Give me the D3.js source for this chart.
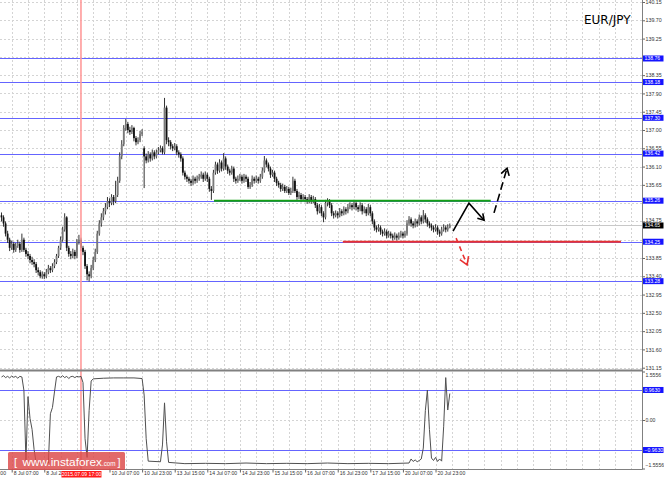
<!DOCTYPE html>
<html><head><meta charset="utf-8">
<script src="https://cdn.jsdelivr.net/npm/d3@7"></script>
<style>
html,body{margin:0;padding:0;background:#fff;}
svg{display:block;}
</style></head><body>
<svg id="c" width="664" height="478"></svg>
<script>
// ---------- DATA (EUR/JPY, H1 bars 8 Jul 02:00 .. 21 Jul 06:00) ----------
const open = [
134.90,134.85,134.70,134.45,134.30,134.10,134.20,134.05,134.15,134.20,
134.05,134.30,134.05,133.95,133.90,133.80,133.75,133.70,133.55,133.50,
133.40,133.45,133.40,133.50,133.60,133.55,133.65,133.75,133.90,134.10,
134.30,134.55,134.85,134.10,133.95,133.90,134.00,133.90,134.25,134.30,
134.10,134.00,133.65,133.45,133.40,133.60,133.80,134.00,134.45,134.70,
134.85,135.00,135.10,135.25,135.20,135.35,135.25,135.40,135.75,136.35,
136.65,137.05,137.15,137.00,136.95,137.05,136.80,136.70,136.75,136.90,
136.55,136.35,136.25,136.40,136.30,136.45,136.35,136.45,136.50,136.55,
136.45,137.55,136.75,136.70,136.60,136.55,136.60,136.45,136.40,136.30,
135.95,135.85,135.80,135.75,135.70,135.80,135.75,135.80,135.85,135.90,
135.80,135.90,135.80,135.55,135.50,135.95,136.15,136.00,136.20,136.05,
136.30,136.10,136.00,135.95,136.05,135.80,135.75,135.80,135.85,135.75,
135.85,135.80,135.60,135.65,135.80,135.75,135.80,135.75,135.85,136.00,
136.25,136.15,136.05,135.90,135.95,135.80,135.70,135.65,135.55,135.60,
135.50,135.55,135.45,135.50,135.75,135.50,135.35,135.40,135.30,135.35,
135.30,135.25,135.35,135.25,135.30,135.15,135.00,135.10,134.95,134.85,
135.20,135.25,135.15,134.95,134.90,134.95,134.90,135.00,134.95,135.05,
135.00,135.10,135.15,135.10,135.20,135.10,135.05,135.15,135.00,135.05,
134.95,135.10,134.95,134.75,134.60,134.55,134.60,134.50,134.45,134.50,
134.40,134.45,134.40,134.35,134.40,134.35,134.40,134.45,134.40,134.45,
134.70,134.80,134.70,134.65,134.75,134.70,134.85,134.75,134.90,134.80,
134.70,134.65,134.60,134.55,134.60,134.50,134.45,134.55,134.60,134.55,
134.60];
const close = [
134.85,134.70,134.45,134.30,134.10,134.20,134.05,134.15,134.20,134.05,
134.30,134.05,133.95,133.90,133.80,133.75,133.70,133.55,133.50,133.40,
133.45,133.40,133.50,133.60,133.55,133.65,133.75,133.90,134.10,134.30,
134.55,134.85,134.10,133.95,133.90,134.00,133.90,134.25,134.30,134.10,
134.00,133.65,133.45,133.40,133.60,133.80,134.00,134.45,134.70,134.85,
135.00,135.10,135.25,135.20,135.35,135.25,135.40,135.75,136.35,136.65,
137.05,137.15,137.00,136.95,137.05,136.80,136.70,136.75,136.90,136.95,
136.35,136.25,136.40,136.30,136.45,136.35,136.45,136.50,136.55,136.45,
137.55,136.75,136.70,136.60,136.55,136.60,136.45,136.40,136.30,135.95,
135.85,135.80,135.75,135.70,135.80,135.75,135.80,135.85,135.90,135.80,
135.90,135.80,135.55,135.50,135.95,136.15,136.00,136.20,136.05,136.30,
136.10,136.00,135.95,136.05,135.80,135.75,135.80,135.85,135.75,135.85,
135.80,135.60,135.65,135.80,135.75,135.80,135.75,135.85,136.00,136.25,
136.15,136.05,135.90,135.95,135.80,135.70,135.65,135.55,135.60,135.50,
135.55,135.45,135.50,135.75,135.50,135.35,135.40,135.30,135.35,135.30,
135.25,135.35,135.25,135.30,135.15,135.00,135.10,134.95,134.85,135.20,
135.25,135.15,134.95,134.90,134.95,134.90,135.00,134.95,135.05,135.00,
135.10,135.15,135.10,135.20,135.10,135.05,135.15,135.00,135.05,134.95,
135.10,134.95,134.75,134.60,134.55,134.60,134.50,134.45,134.50,134.40,
134.45,134.40,134.35,134.40,134.35,134.40,134.45,134.40,134.45,134.70,
134.80,134.70,134.65,134.75,134.70,134.85,134.75,134.90,134.80,134.70,
134.65,134.60,134.55,134.60,134.50,134.45,134.55,134.60,134.55,134.60,
134.65];
const high = [
134.97,134.90,134.75,134.52,134.35,134.28,134.25,134.22,134.30,134.25,
134.45,134.35,134.10,134.02,133.95,133.88,133.82,133.75,133.62,133.55,
133.52,133.50,133.58,133.68,133.65,133.72,133.82,133.95,134.15,134.38,
134.62,134.95,134.88,134.15,134.02,134.08,134.05,134.32,134.42,134.35,
134.15,134.05,133.70,133.52,133.68,133.88,134.08,134.52,134.78,134.95,
135.08,135.20,135.35,135.32,135.42,135.40,135.75,135.85,136.45,136.75,
137.12,137.27,137.20,137.08,137.12,137.08,136.85,136.82,136.98,137.02,
136.60,136.42,136.48,136.45,136.52,136.50,136.52,136.58,136.62,136.60,
137.79,137.60,136.82,136.75,136.65,136.68,136.65,136.50,136.45,136.35,
136.00,135.90,135.85,135.80,135.88,135.85,135.88,135.92,135.98,135.95,
135.98,135.95,135.85,135.62,136.02,136.22,136.20,136.28,136.25,136.43,
136.35,136.15,136.05,136.12,136.10,135.85,135.88,135.92,135.90,135.92,
135.90,135.85,135.72,135.88,135.85,135.88,135.85,135.92,136.08,136.36,
136.30,136.20,136.10,136.02,136.00,135.85,135.75,135.70,135.68,135.65,
135.62,135.60,135.58,135.85,135.80,135.55,135.48,135.45,135.42,135.40,
135.35,135.42,135.40,135.38,135.35,135.20,135.18,135.15,135.00,135.28,
135.32,135.30,135.20,135.00,135.02,135.00,135.08,135.05,135.12,135.10,
135.18,135.22,135.20,135.28,135.25,135.15,135.22,135.20,135.12,135.10,
135.18,135.15,135.00,134.80,134.65,134.68,134.65,134.55,134.58,134.55,
134.52,134.50,134.45,134.48,134.45,134.48,134.52,134.50,134.52,134.78,
134.88,134.85,134.75,134.82,134.80,134.92,134.90,135.03,134.95,134.85,
134.75,134.70,134.65,134.68,134.65,134.55,134.62,134.68,134.65,134.68,
134.70];
const low = [
134.75,134.62,134.38,134.22,134.02,134.05,133.98,134.00,134.10,133.98,
134.00,134.00,133.88,133.82,133.72,133.68,133.62,133.48,133.42,133.35,
133.34,133.33,133.35,133.45,133.48,133.50,133.60,133.70,133.85,134.05,
134.25,134.50,134.02,133.88,133.82,133.85,133.82,133.85,134.18,134.02,
133.92,133.58,133.30,133.27,133.35,133.55,133.75,133.95,134.40,134.62,
134.78,134.92,135.05,135.10,135.15,135.15,135.20,135.35,135.70,136.28,
136.60,136.98,136.92,136.88,136.90,136.72,136.62,136.65,136.70,136.85,
135.57,136.18,136.20,136.22,136.25,136.28,136.30,136.40,136.45,136.40,
136.40,136.65,136.60,136.52,136.48,136.50,136.38,136.32,136.22,135.88,
135.78,135.72,135.68,135.62,135.65,135.68,135.70,135.75,135.80,135.72,
135.75,135.72,135.48,135.28,135.45,135.90,135.92,135.95,135.98,136.00,
136.02,135.92,135.88,135.90,135.72,135.68,135.70,135.75,135.68,135.70,
135.72,135.55,135.55,135.60,135.68,135.70,135.68,135.70,135.80,135.95,
136.08,135.98,135.82,135.85,135.72,135.62,135.58,135.48,135.50,135.45,
135.45,135.40,135.40,135.45,135.45,135.28,135.30,135.22,135.25,135.22,
135.18,135.20,135.18,135.20,135.08,134.92,134.95,134.88,134.73,134.80,
135.12,135.08,134.88,134.82,134.85,134.82,134.85,134.88,134.90,134.92,
134.95,135.05,135.02,135.05,135.02,134.98,135.00,134.92,134.95,134.88,
134.90,134.88,134.68,134.52,134.48,134.50,134.42,134.38,134.40,134.33,
134.35,134.33,134.28,134.30,134.28,134.30,134.35,134.33,134.35,134.40,
134.65,134.62,134.58,134.60,134.62,134.65,134.68,134.70,134.72,134.62,
134.58,134.52,134.48,134.50,134.42,134.37,134.40,134.50,134.48,134.50,
134.58];

// oscillator (lower panel): bar index / value
const oscIdx = [0,1,2,3,4,5,6,7,8,9,10,11,12,13,14,15,16,17,23,24,25,26,27,28,29,30,31,32,33,34,35,36,37,38,39,
  40,41,42,43,44,45,50,55,60,65,69,70,71,72,78,79,80,81,82,90,100,110,120,130,140,150,160,170,180,190,200,
  201,202,203,204,205,206,207,208,209,210,211,212,213,214,215,216,217,218,219,220];
const oscVal = [1.38,1.42,1.36,1.40,1.35,1.41,1.37,1.40,1.34,1.40,1.38,0.95,-1.30,0.75,0.05,-0.30,-0.95,-1.38,-1.38,0.20,0.40,0.90,1.38,1.40,1.37,1.42,1.36,1.40,1.33,1.39,1.40,1.36,1.40,1.38,1.40,
  1.20,-0.60,-1.20,0.30,1.25,1.32,1.34,1.35,1.35,1.35,1.33,0.80,-0.60,-1.32,-1.34,-0.80,0.55,-0.70,-1.36,-1.40,-1.39,-1.40,-1.38,-1.40,-1.39,-1.40,-1.38,-1.40,-1.39,-1.40,-1.38,
  -1.25,-1.33,-1.28,-1.34,-1.30,-1.25,-0.90,0.30,0.96,-0.30,-1.22,-1.30,-1.20,-1.33,-1.25,-1.32,-0.20,1.36,0.32,0.85];

const priceTicks = [140.15,139.70,139.25,138.35,137.90,137.45,137.00,136.55,136.10,135.65,134.75,133.85,133.40,132.95,132.50,132.05,131.60,131.15];
const gridPrices = [140.15,139.70,139.25,138.80,138.35,137.90,137.45,137.00,136.55,136.10,135.65,135.20,134.75,134.30,133.85,133.40,132.95,132.50,132.05,131.60,131.15];
const levels = [138.76,138.18,137.30,136.42,135.26,134.25,133.28];
const currentPrice = 134.65;
const oscTicks = [1.5556,0.00,-1.5556];
const oscLevels = [0.9630,-0.9630];
const timeTickIdx = [-11,5,21,53,69,85,101,117,133,149,165,181,197,213];
const timeTickLabels = ["7 Jul 15:00","8 Jul 07:00","8 Jul 23:00","10 Jul 07:00","10 Jul 23:00","13 Jul 15:00","14 Jul 07:00","14 Jul 23:00","15 Jul 15:00","16 Jul 07:00","16 Jul 23:00","17 Jul 15:00","20 Jul 07:00","20 Jul 23:00"];
const markerIdx = 39, markerLabel = "2015.07.09 17:00";
const greenLine = {from:104.3, to:240.1, price:135.26};
const redLine = {from:167.5, to:304, price:134.25};
const arrowUp = [[221.6,134.51],[229.4,135.20],[236.8,134.78]];
const arrowUpDash = [[241.7,134.96],[248.1,136.06]];
const arrowDownDash = [[223.1,134.34],[228.5,133.68]];
const title = "EUR/JPY";

// ---------- LAYOUT ----------
const svg = d3.select("#c");
const AX = 642.5, MAIN_BOT = 370, OSC_BOT = 469.5;
const x = d3.scaleLinear().domain([0,220]).range([1.5, 449.8]);
const y = d3.scaleLinear().domain([131.15,140.15]).range([367.7, 2.0]);
const yo = d3.scaleLinear().domain([-1.5556,1.5556]).range([468.5, 371.5]);
const SMALL = "Liberation Sans, Arial, sans-serif";

const defs = svg.append("defs");
defs.append("clipPath").attr("id","cm").append("rect").attr("x",0).attr("y",0).attr("width",AX).attr("height",MAIN_BOT);
defs.append("clipPath").attr("id","co").append("rect").attr("x",0).attr("y",371.5).attr("width",AX).attr("height",98);

const px = v => Math.round(v) + 0.5;

// grid
const grid = svg.append("g").attr("stroke","#d4d4d4").attr("stroke-dasharray","2,2").attr("shape-rendering","crispEdges");
grid.selectAll("line.h").data(gridPrices).join("line").attr("class","h")
  .attr("x1",0).attr("x2",AX).attr("y1",d=>px(y(d))).attr("y2",d=>px(y(d)));
grid.append("line").attr("x1",0).attr("x2",AX).attr("y1",px(yo(0))).attr("y2",px(yo(0)));
const vIdx = d3.range(5, 320, 8);
grid.selectAll("line.v").data(vIdx.filter(i=>x(i)<AX)).join("line").attr("class","v")
  .attr("x1",d=>px(x(d))).attr("x2",d=>px(x(d))).attr("y1",0).attr("y2",OSC_BOT);

// main panel
const gm = svg.append("g").attr("clip-path","url(#cm)");
gm.append("line").attr("x1",0).attr("x2",AX).attr("y1",px(y(currentPrice))).attr("y2",px(y(currentPrice)))
  .attr("stroke","#c8c8c8").attr("shape-rendering","crispEdges");
gm.selectAll("line.lv").data(levels).join("line").attr("class","lv")
  .attr("x1",0).attr("x2",AX).attr("y1",d=>px(y(d))).attr("y2",d=>px(y(d)))
  .attr("stroke","#6464ff").attr("stroke-width",1).attr("shape-rendering","crispEdges");

// marker line
svg.append("line").attr("x1",x(markerIdx)).attr("x2",x(markerIdx)).attr("y1",0).attr("y2",OSC_BOT)
  .attr("stroke","#ff9a9a").attr("stroke-width",1.6);

// candles
const bars = d3.range(close.length);
gm.selectAll("line.wk").data(bars).join("line").attr("class","wk")
  .attr("x1",i=>x(i)).attr("x2",i=>x(i)).attr("y1",i=>y(high[i])).attr("y2",i=>y(low[i]))
  .attr("stroke","#333").attr("stroke-width",1);
gm.selectAll("rect.bd").data(bars).join("rect").attr("class","bd")
  .attr("x",i=>x(i)-0.9).attr("width",1.8)
  .attr("y",i=>y(Math.max(open[i],close[i])))
  .attr("height",i=>Math.max(1, Math.abs(y(open[i])-y(close[i]))))
  .attr("fill",i=> close[i]>=open[i] ? "#7a7a7a" : "#111");

// support / resistance
gm.append("line").attr("x1",x(greenLine.from)).attr("x2",x(greenLine.to))
  .attr("y1",y(greenLine.price)).attr("y2",y(greenLine.price)).attr("stroke","#14a014").attr("stroke-width",2);
gm.append("line").attr("x1",x(redLine.from)).attr("x2",x(redLine.to))
  .attr("y1",y(redLine.price)).attr("y2",y(redLine.price)).attr("stroke","#e83232").attr("stroke-width",2);

// arrows
function arrow(pts, color, dash, head){
  const p = pts.map(d=>[x(d[0]), y(d[1])]);
  gm.append("path").attr("d", d3.line()(p)).attr("fill","none").attr("stroke",color)
    .attr("stroke-width",1.6).attr("stroke-dasharray",dash);
  const a = p[p.length-1], b = p[p.length-2];
  const ang = Math.atan2(b[1]-a[1], b[0]-a[0]);
  const arms = [ang+0.55, ang-0.55].map(t=>[a[0]+head*Math.cos(t), a[1]+head*Math.sin(t)]);
  gm.append("path").attr("d", d3.line()([arms[0], a, arms[1]])).attr("fill","none")
    .attr("stroke",color).attr("stroke-width",1.6);
}
arrow(arrowUp, "#000", null, 7);
arrow(arrowUpDash, "#000", "8,4", 8);
arrow(arrowDownDash, "#e83232", "5,4", 9);

// oscillator
const go = svg.append("g").attr("clip-path","url(#co)");
go.selectAll("line.ol").data(oscLevels).join("line").attr("class","ol")
  .attr("x1",0).attr("x2",AX).attr("y1",d=>px(yo(d))).attr("y2",d=>px(yo(d)))
  .attr("stroke","#6464ff").attr("shape-rendering","crispEdges");
go.append("path").attr("d", d3.line().x((d,i)=>x(oscIdx[i])).y(d=>yo(d))(oscVal))
  .attr("fill","none").attr("stroke","#505050").attr("stroke-width",1);

// frame
svg.append("line").attr("x1",0).attr("x2",AX).attr("y1",MAIN_BOT+0.5).attr("y2",MAIN_BOT+0.5).attr("stroke","#808080").attr("stroke-width",2);
svg.append("line").attr("x1",AX).attr("x2",AX).attr("y1",0).attr("y2",OSC_BOT).attr("stroke","#808080");
svg.append("line").attr("x1",0).attr("x2",AX).attr("y1",OSC_BOT).attr("y2",OSC_BOT).attr("stroke","#808080");

// price axis
const pa = svg.append("g").attr("transform",`translate(${AX},0)`)
  .call(d3.axisRight(y).tickValues(priceTicks).tickSize(2.5).tickPadding(0.5).tickFormat(d3.format(".2f")));
pa.select(".domain").remove();
pa.selectAll("line").attr("stroke","#666");
pa.selectAll("text").attr("font-family",SMALL).attr("font-size",5.3).attr("fill","#333")
  .attr("dy", d=> d===134.75 ? "0.1em" : "0.32em");

function tag(parent, yy, label, bg){
  parent.append("rect").attr("x",AX+0.5).attr("y",yy-3).attr("width",20.5).attr("height",6).attr("fill",bg);
  parent.append("text").attr("x",AX+2).attr("y",yy).attr("dy","0.35em").text(label)
    .attr("font-family",SMALL).attr("font-size",5.1).attr("fill","#fff");
}
levels.forEach(v=>tag(svg, y(v), d3.format(".2f")(v), "#1414ff"));
tag(svg, y(currentPrice), d3.format(".2f")(currentPrice), "#000");

// oscillator axis
const oa = svg.append("g").attr("transform",`translate(${AX},0)`)
  .call(d3.axisRight(yo).tickValues(oscTicks).tickSize(2.5).tickPadding(0.5).tickFormat(d=> d===0 ? "0.00" : d3.format(".4f")(d)));
oa.select(".domain").remove();
oa.selectAll("line").attr("stroke","#666");
oa.selectAll("text").attr("font-family",SMALL).attr("font-size",5.1).attr("fill","#333")
  .attr("dy", d=> d>1 ? "1.0em" : (d<-1 ? "-0.3em" : "0.32em"));
oscLevels.forEach(v=>tag(svg, yo(v), d3.format(".4f")(v), "#1414ff"));

// time axis
const ta = svg.append("g").attr("transform",`translate(0,${OSC_BOT})`)
  .call(d3.axisBottom(x).tickValues(timeTickIdx).tickSize(3).tickFormat((d,i)=>timeTickLabels[i]));
ta.select(".domain").remove();
ta.selectAll("line").attr("stroke","#666");
ta.selectAll("text").attr("text-anchor","start").attr("x",1.5).attr("y",2).attr("dy","0.75em")
  .attr("font-family",SMALL).attr("font-size",5.1).attr("fill","#333");
svg.append("rect").attr("x",x(markerIdx)-19.5).attr("y",471).attr("width",40).attr("height",6.5).attr("fill","#ff1a1a");
svg.append("text").attr("x",x(markerIdx)+0.5).attr("y",474.3).attr("dy","0.35em").attr("text-anchor","middle")
  .attr("font-family",SMALL).attr("font-size",5.1).attr("fill","#fff").text(markerLabel);

// title
svg.append("text").attr("x",584).attr("y",24).text(title)
  .attr("font-family","DejaVu Sans, sans-serif").attr("font-size",12).attr("fill","#000");

// watermark
const wm = svg.append("g");
wm.append("rect").attr("x",8).attr("y",452).attr("width",117).attr("height",18).attr("rx",1.5)
  .attr("fill","#dc4848").attr("opacity",0.82);
const wt = wm.append("text").attr("x",14).attr("y",466).attr("fill","#fff").attr("font-family",SMALL);
wt.append("tspan").attr("font-size",11).text("[");
wt.append("tspan").attr("dx",5.5).attr("font-size",11.8).text("www.instaforex");
wt.append("tspan").attr("font-size",6.3).text(".com");
wt.append("tspan").attr("dx",2).attr("font-size",11).text("]");
</script>
</body></html>
